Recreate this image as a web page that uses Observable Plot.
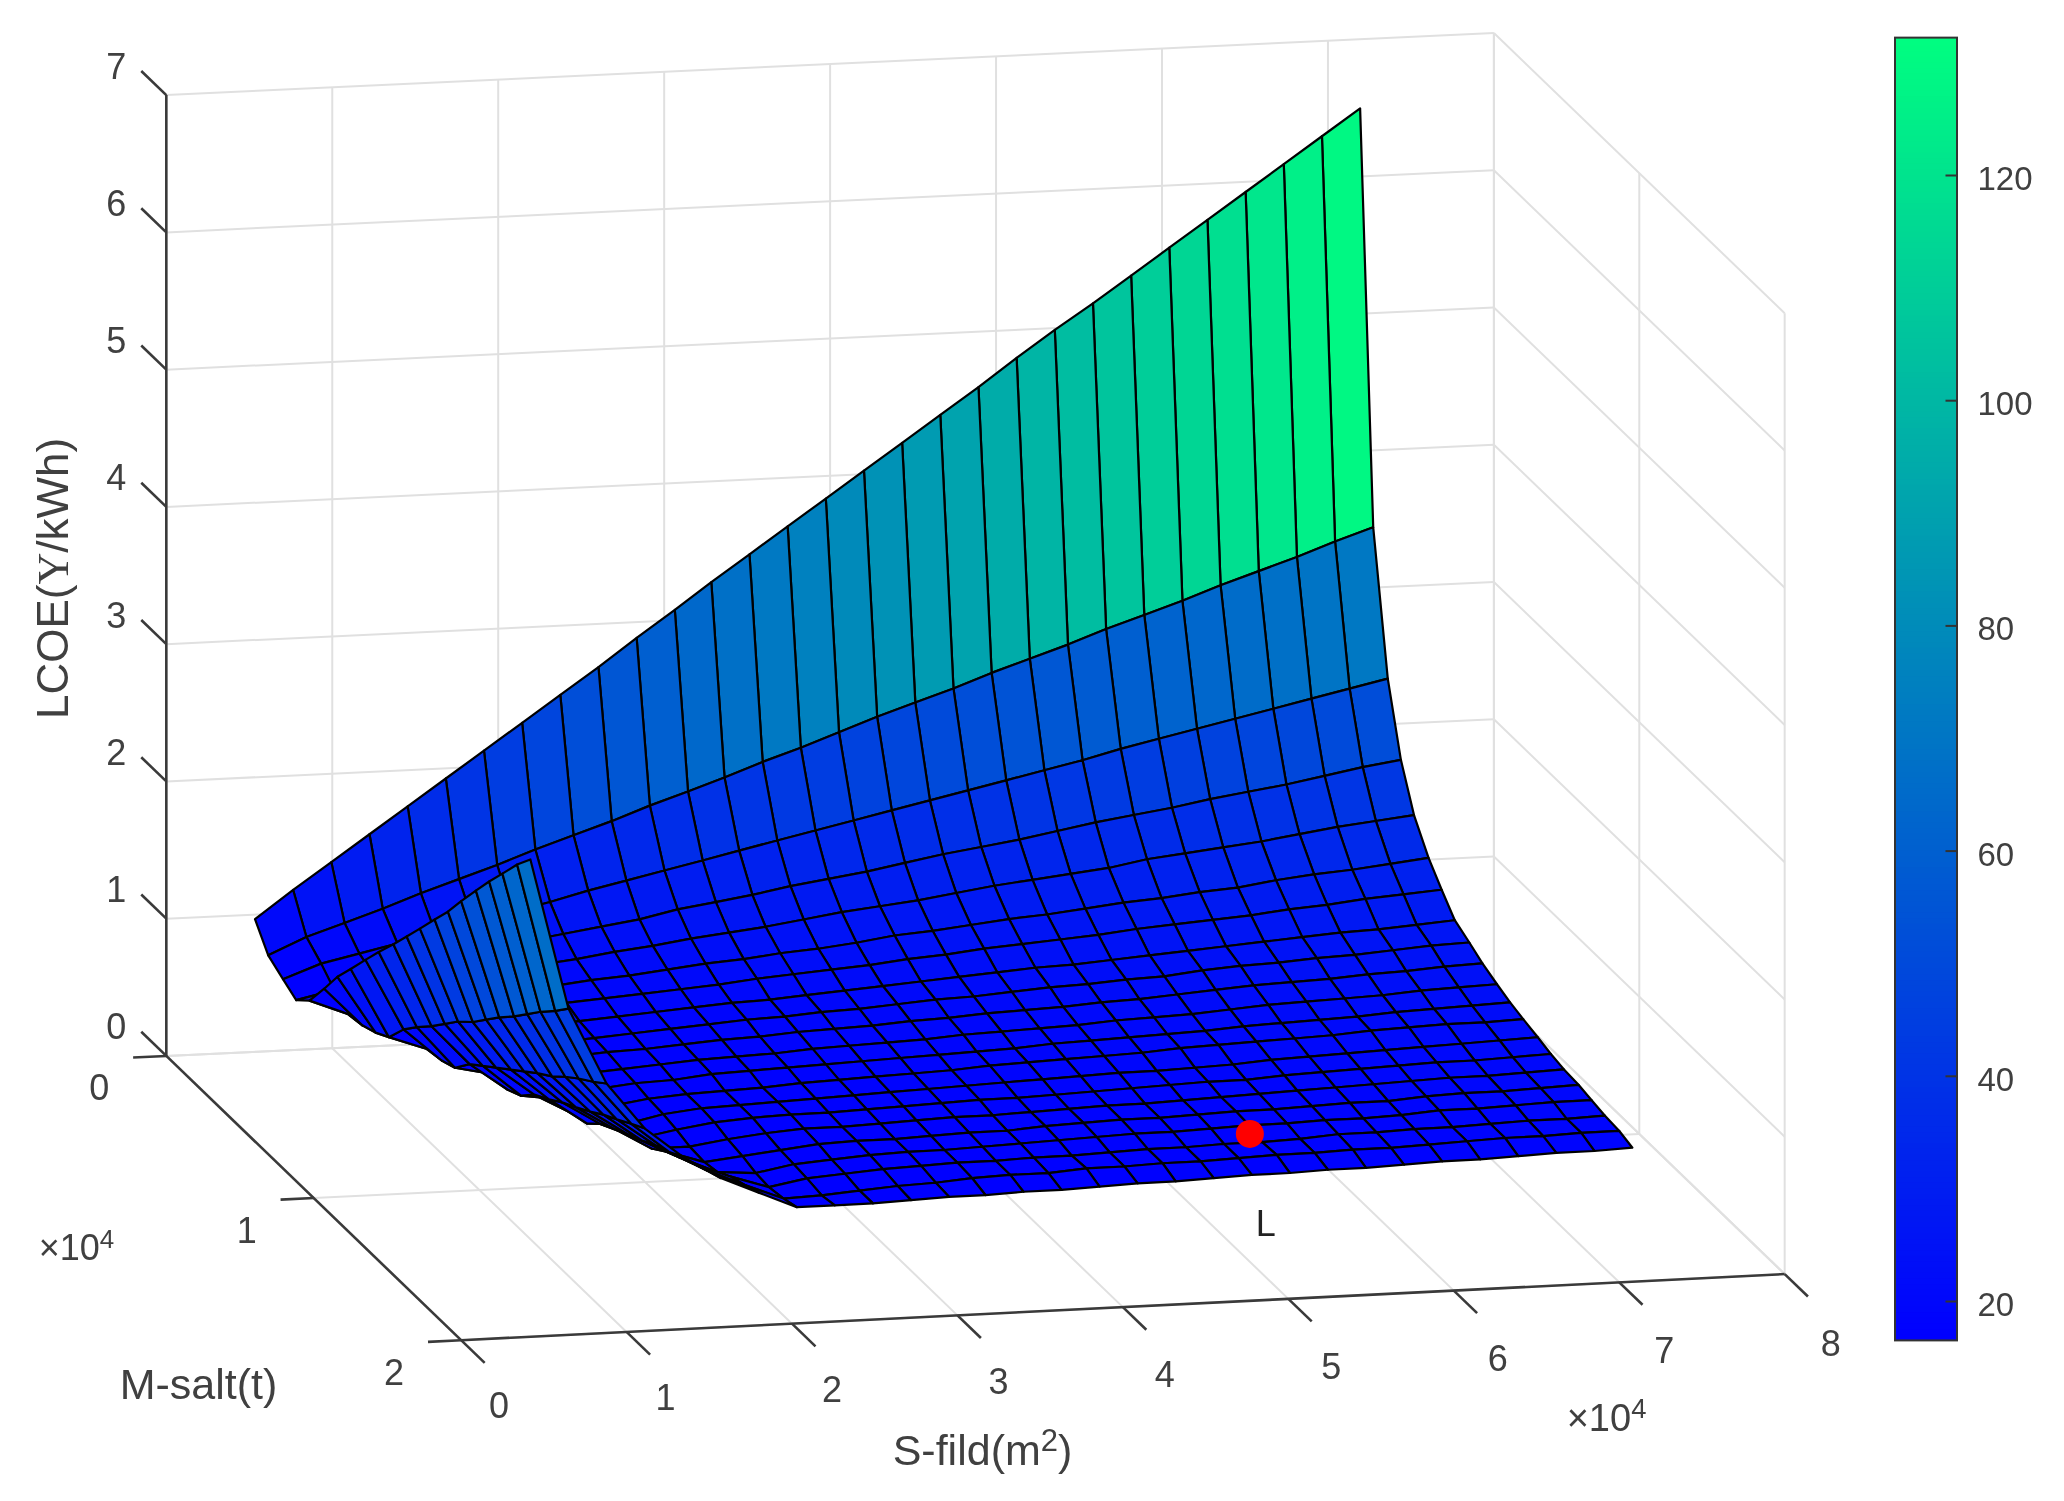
<!DOCTYPE html>
<html>
<head>
<meta charset="utf-8">
<script src="https://cdn.jsdelivr.net/npm/d3@7"></script>
<script src="https://cdn.jsdelivr.net/npm/@observablehq/plot@0.6"></script>
<style>
html,body{margin:0;padding:0;background:#fff}
svg{display:block}
</style>
</head>
<body>
<div id="chart"></div>
<script>
// Field area (x 10^4 m2) along the mesh
const sGrid = [0.49,0.72,0.95,1.18,1.41,1.64,1.87,2.10,2.33,2.56,2.79,3.02,3.24,3.47,3.70,3.93,4.16,4.39,4.62,4.85,5.08,5.31,5.54,5.77,6.00,6.23,6.46,6.69,6.92,7.15];
// Molten salt mass (x 10^4 t) along the mesh
const mGrid = [0.05,0.14,0.24,0.33,0.42,0.52,0.61,0.70,0.80,0.89,0.99,1.08,1.17,1.27,1.36,1.45,1.55,1.64,1.73,1.83,1.92];
// LCOE: one row per salt mass, one column per field area
const lcoeGrid = [
[1.02,1.22,1.41,1.60,1.79,1.98,2.17,2.36,2.55,2.74,2.94,3.13,3.32,3.51,3.70,3.89,4.08,4.27,4.46,4.65,4.85,5.04,5.22,5.41,5.60,5.79,5.98,6.17,6.36,6.55],
[0.85,0.97,1.06,1.15,1.25,1.34,1.43,1.53,1.62,1.71,1.81,1.90,1.99,2.09,2.18,2.28,2.38,2.47,2.56,2.66,2.75,2.84,2.94,3.03,3.12,3.22,3.31,3.40,3.50,3.59],
[0.78,0.88,0.94,1.00,1.06,1.12,1.19,1.25,1.32,1.38,1.44,1.50,1.56,1.62,1.68,1.74,1.80,1.86,1.92,1.98,2.04,2.10,2.17,2.23,2.29,2.35,2.41,2.47,2.53,2.59],
[0.72,0.78,0.89,0.93,0.98,1.02,1.07,1.11,1.15,1.19,1.25,1.29,1.33,1.38,1.42,1.46,1.51,1.56,1.60,1.64,1.69,1.74,1.78,1.82,1.87,1.91,1.95,2.00,2.05,2.09],
[0.81,0.70,0.82,0.89,0.92,0.95,0.99,1.02,1.06,1.09,1.13,1.16,1.19,1.23,1.27,1.30,1.33,1.37,1.41,1.44,1.47,1.50,1.55,1.58,1.61,1.64,1.68,1.72,1.75,1.78],
[1.00,0.72,0.80,0.85,0.88,0.91,0.94,0.97,0.99,1.02,1.05,1.07,1.10,1.12,1.15,1.19,1.21,1.24,1.27,1.29,1.32,1.35,1.37,1.40,1.42,1.46,1.49,1.51,1.54,1.57],
[1.18,0.76,0.76,0.82,0.85,0.88,0.91,0.93,0.95,0.97,0.99,1.02,1.04,1.06,1.08,1.11,1.13,1.16,1.18,1.20,1.22,1.25,1.27,1.29,1.31,1.34,1.36,1.39,1.41,1.43],
[1.33,0.82,0.72,0.80,0.83,0.85,0.87,0.89,0.91,0.93,0.95,0.96,0.98,1.00,1.02,1.04,1.06,1.08,1.10,1.11,1.13,1.15,1.17,1.19,1.21,1.23,1.25,1.26,1.28,1.30],
[1.50,0.98,0.74,0.76,0.81,0.83,0.85,0.87,0.89,0.91,0.93,0.94,0.96,0.97,0.99,1.01,1.02,1.04,1.06,1.07,1.09,1.10,1.13,1.15,1.16,1.18,1.19,1.21,1.23,1.24],
[1.65,1.09,0.78,0.72,0.79,0.82,0.84,0.85,0.87,0.89,0.90,0.92,0.93,0.94,0.96,0.97,0.99,1.00,1.01,1.03,1.04,1.06,1.08,1.10,1.11,1.12,1.14,1.15,1.17,1.18],
[1.81,1.20,0.91,0.71,0.76,0.80,0.82,0.84,0.86,0.87,0.88,0.90,0.91,0.92,0.93,0.95,0.96,0.97,0.98,1.00,1.01,1.02,1.04,1.06,1.07,1.08,1.09,1.11,1.12,1.13],
[1.96,1.31,0.99,0.76,0.72,0.78,0.81,0.82,0.85,0.86,0.87,0.88,0.89,0.90,0.91,0.92,0.93,0.95,0.96,0.97,0.98,0.99,1.01,1.02,1.03,1.04,1.06,1.07,1.08,1.09],
[2.11,1.42,1.07,0.86,0.71,0.75,0.79,0.81,0.82,0.83,0.85,0.86,0.87,0.88,0.89,0.91,0.92,0.93,0.94,0.95,0.97,0.98,0.99,1.00,1.01,1.03,1.04,1.05,1.05,1.06],
[2.28,1.52,1.16,0.93,0.74,0.72,0.78,0.81,0.82,0.83,0.84,0.85,0.86,0.87,0.88,0.89,0.90,0.91,0.92,0.92,0.93,0.94,0.96,0.97,0.98,0.99,1.00,1.01,1.02,1.03],
[2.43,1.63,1.24,1.00,0.83,0.71,0.76,0.80,0.82,0.83,0.83,0.84,0.85,0.86,0.87,0.87,0.88,0.89,0.90,0.91,0.92,0.92,0.94,0.95,0.96,0.97,0.98,0.98,0.99,1.00],
[2.60,1.74,1.32,1.06,0.89,0.73,0.73,0.77,0.80,0.82,0.82,0.83,0.84,0.85,0.85,0.86,0.87,0.88,0.88,0.89,0.90,0.91,0.92,0.93,0.94,0.95,0.96,0.96,0.97,0.98],
[2.78,1.85,1.40,1.13,0.95,0.81,0.72,0.75,0.78,0.81,0.82,0.82,0.83,0.84,0.84,0.86,0.87,0.88,0.88,0.89,0.90,0.90,0.91,0.92,0.92,0.94,0.95,0.95,0.96,0.97],
[2.94,1.96,1.49,1.20,1.00,0.86,0.74,0.72,0.77,0.79,0.81,0.82,0.82,0.83,0.84,0.85,0.86,0.87,0.87,0.88,0.89,0.89,0.90,0.90,0.91,0.93,0.93,0.94,0.95,0.95],
[3.09,2.07,1.57,1.26,1.06,0.91,0.80,0.71,0.76,0.78,0.80,0.81,0.82,0.82,0.83,0.83,0.84,0.85,0.85,0.86,0.86,0.87,0.89,0.89,0.90,0.90,0.91,0.92,0.92,0.93],
[3.26,2.18,1.65,1.33,1.11,0.96,0.84,0.73,0.74,0.76,0.78,0.79,0.81,0.82,0.82,0.84,0.84,0.85,0.85,0.86,0.87,0.87,0.88,0.88,0.89,0.90,0.91,0.91,0.92,0.92],
[3.39,2.29,1.73,1.39,1.17,1.00,0.88,0.76,0.76,0.76,0.77,0.78,0.78,0.79,0.79,0.80,0.81,0.81,0.82,0.83,0.83,0.84,0.84,0.85,0.86,0.86,0.87,0.88,0.88,0.89]
];
// Colour value per unit of LCOE on the surface
const colourPerLcoe = 20.3;
const colourDomain = [16.5, 132.2];
const colourTicks = [20, 40, 60, 80, 100, 120];
const sTicks = [0,1,2,3,4,5,6,7,8];
const mTicks = [0,1,2];
const zTicks = [0,1,2,3,4,5,6,7];
const marked = [{s: 5.05, m: 1.68, z: 0.87, label: "L"}];

// 3D view of the box, with its slight perspective
const px = (s, m) => 1.316 * (126 + 126.1 * s + (112 - 0.19 * s) * m);
const py = (s, m, z) => 1.316 * (802 - 5.9 * s + (108 - 0.19 * s) * m - 104.3 * z);
const P = (s, m, z) => ({x: px(s, m), y: py(s, m, z)});
const seg = (a, b) => ({x1: a.x, y1: a.y, x2: b.x, y2: b.y});

// Surface cells, far to near
const cells = [];
for (let k = 0; k < mGrid.length - 1; k++) {
  for (let j = sGrid.length - 2; j >= 0; j--) {
    const id = k * 100 + j;
    const c = lcoeGrid[k][j] * colourPerLcoe;
    for (const [a, b] of [[k, j], [k, j + 1], [k + 1, j + 1], [k + 1, j]]) {
      cells.push({id, c, ...P(sGrid[b], mGrid[a], lcoeGrid[a][b])});
    }
  }
}

// Box grid
const sMax = d3.max(sTicks), mMax = d3.max(mTicks), zMax = d3.max(zTicks);
const grid = [];
for (const z of zTicks) {
  grid.push(seg(P(0,0,z), P(sMax,0,z)));
  grid.push(seg(P(sMax,0,z), P(sMax,mMax,z)));
}
for (const s of sTicks) {
  grid.push(seg(P(s,0,0), P(s,0,zMax)));
  grid.push(seg(P(s,0,0), P(s,mMax,0)));
}
for (const m of mTicks) {
  grid.push(seg(P(sMax,m,0), P(sMax,m,zMax)));
  grid.push(seg(P(0,m,0), P(sMax,m,0)));
}
const axes = [seg(P(0,0,0),P(0,0,zMax)), seg(P(0,0,0),P(0,mMax,0)), seg(P(0,mMax,0),P(sMax,mMax,0))];
for (const z of zTicks) axes.push(seg(P(0,0,z),P(0,-0.17,z)));
for (const m of mTicks) axes.push(seg(P(0,m,0),P(-0.2,m,0)));
for (const s of sTicks) axes.push(seg(P(s,mMax,0),P(s,mMax+0.16,0)));

// Colour bar
const barX = [1895, 1957];
const barY = c => 175 + (120 - c) * 11.26;
const levels = d3.range(colourDomain[0], colourDomain[1], 0.5);

const label = (data, o) => Plot.text(data, {fontSize: 36, fill: "#404040", textAnchor: "middle", lineAnchor: "middle", ...o});

const plot = Plot.plot({
  width: 2064, height: 1501,
  marginTop: 0, marginRight: 0, marginBottom: 0, marginLeft: 0,
  x: {domain: [0, 2064], range: [0, 2064], axis: null},
  y: {domain: [0, 1501], range: [0, 1501], axis: null},
  color: {type: "linear", domain: colourDomain, range: ["#0000ff", "#00ff80"], clamp: true, interpolate: "rgb"},
  style: {fontFamily: "'Liberation Sans', Arial, sans-serif", background: "#fff", filter: "blur(0.6px)"},
  marks: [
    Plot.link(grid, {x1: "x1", y1: "y1", x2: "x2", y2: "y2", stroke: "#e0e0e0", strokeWidth: 2}),
    Plot.link(axes, {x1: "x1", y1: "y1", x2: "x2", y2: "y2", stroke: "#3a3a3a", strokeWidth: 2.6}),
    Plot.line(cells, {x: "x", y: "y", z: "id", fill: "c", stroke: "#000", strokeWidth: 2.2, curve: "linear-closed"}),
    Plot.dot(marked, {x: d => px(d.s, d.m), y: d => py(d.s, d.m, d.z), r: 14, fill: "#ff0000", stroke: "none"}),
    Plot.text(marked, {x: d => px(d.s, d.m) + 16, y: d => py(d.s, d.m, d.z) + 91, text: "label", fontSize: 36, fill: "#222"}),
    label(zTicks, {x: () => px(0,0) - 50, y: z => py(0,0,z) - 28, text: z => String(z)}),
    label(mTicks, {x: m => px(0,m) - 67, y: m => py(0,m,0) + 33, text: m => String(m)}),
    label(sTicks, {x: s => px(s,mMax) + 38 + s, y: s => py(s,mMax,0) + 66 + 0.5 * s, text: s => String(s)}),
    label(["LCOE(Υ/kWh)"], {x: () => 53, y: () => 578, text: d => d, rotate: -90, fontSize: 44}),
    label(["M-salt(t)"], {x: () => 198, y: () => 1385, text: d => d, fontSize: 43}),
    label(["S-fild(m^2)"], {x: () => 982, y: () => 1451, text: d => d, fontSize: 43}),
    label(["×10^4"], {x: () => 76, y: () => 1248, text: d => d}),
    label(["×10^4"], {x: () => 1606, y: () => 1418, text: d => d, fontSize: 38}),
    Plot.rect(levels, {x1: () => barX[0], x2: () => barX[1], y1: c => barY(c), y2: c => barY(Math.min(c + 1, colourDomain[1])), fill: c => c}),
    Plot.rect([colourDomain], {x1: () => barX[0], x2: () => barX[1], y1: d => barY(d[0]), y2: d => barY(d[1]), fill: "none", stroke: "#333", strokeWidth: 2}),
    Plot.link(colourTicks, {x1: () => barX[1] - 12, x2: () => barX[1], y1: c => barY(c), y2: c => barY(c), stroke: "#333", strokeWidth: 2}),
    label(colourTicks, {x: () => barX[1] + 20, y: c => barY(c) + 4, text: c => String(c), textAnchor: "start", fontSize: 33})
  ]
});
// Superscripts and the serif currency glyph, as real text
plot.querySelectorAll("text").forEach(t => {
  const s = t.textContent;
  if (s.includes("^")) {
    t.innerHTML = s.replace(/\^(\d)(.*)/, '<tspan dy="-0.45em" font-size="0.72em">$1</tspan><tspan dy="0.324em">$2</tspan>');
  } else if (s.includes("Υ")) {
    t.innerHTML = s.replace("Υ", '<tspan font-family="Liberation Serif">Υ</tspan>');
  }
});
document.getElementById("chart").append(plot);
</script>
</body>
</html>
